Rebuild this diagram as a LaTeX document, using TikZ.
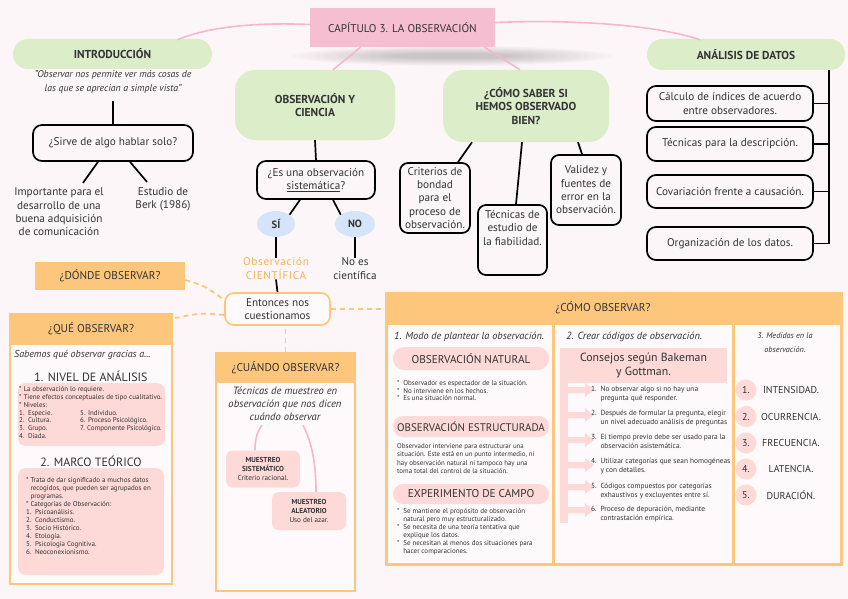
\documentclass[tikz,border=0pt]{standalone}
\usepackage{fontspec}
\setmainfont{PT Sans}
\usetikzlibrary{calc,shapes.geometric}
\definecolor{bgc}{HTML}{FDF6F8}
\definecolor{tpink}{HTML}{F6BED1}
\definecolor{cpink}{HTML}{F5B8CB}
\definecolor{grn}{HTML}{DCEDCA}
\definecolor{blu}{HTML}{D6E4F9}
\definecolor{orng}{HTML}{FCC77D}
\definecolor{otxt}{HTML}{F8B054}
\definecolor{pnk}{HTML}{FDD9D8}
\definecolor{txt}{HTML}{333333}
\definecolor{panel}{HTML}{FEF9FA}
\tikzset{
 txtbase/.style={text=txt, inner sep=0pt, align=center, font=\fontsize{11.2}{13.3}\selectfont},
 gbox/.style={txtbase, fill=grn, rounded corners=14pt, font=\bfseries\fontsize{11.5}{13.3}\selectfont},
 bbox/.style={txtbase, draw=black, line width=1.7pt, rounded corners=9pt},
 conn/.style={black, line width=1.7pt},
 pinkc/.style={cpink, line width=1.6pt},
 odash/.style={orng, line width=1.8pt, dash pattern=on 5pt off 4pt},
 ohead/.style={txtbase, fill=orng, font=\fontsize{11.3}{13}\selectfont},
 obody/.style={draw=orng, line width=2.2pt, fill=panel},
 hw/.style={txtbase, font=\itshape\fontsize{10}{13}\selectfont},
 smalltxt/.style={txtbase, align=left, font=\fontsize{7}{7.8}\selectfont},
 pillbox/.style={txtbase, fill=pnk, rounded corners=10pt, font=\fontsize{11}{13}\selectfont},
 blob/.style={txtbase, ellipse, fill=blu, font=\bfseries\fontsize{10.5}{12}\selectfont},
}
\begin{document}
\begin{tikzpicture}[x=1pt,y=-1pt]
\fill[bgc] (0,0) rectangle (848,599);
\useasboundingbox (0,0) rectangle (848,599);

% ---------- title ----------
\foreach \i in {0,...,9} \fill[black,opacity=0.018] (452,56) ellipse ({160-\i*11} and {10-\i*0.8});
\node[txtbase, fill=tpink, minimum width=185pt, minimum height=39pt] (title) at (402.5,27.5) {CAPÍTULO 3. LA OBSERVACIÓN};

% ---------- introduccion ----------
\node[gbox, minimum width=199pt, minimum height=30pt, rounded corners=15pt] (intro) at (112.5,54) {INTRODUCCIÓN};
\node[hw, font=\itshape\fontsize{9.8}{14}\selectfont] (quote) at (113,82) {"Observar nos permite ver más cosas de\\las que se aprecian a simple vista"};
\node[bbox, minimum width=160pt, minimum height=36pt] (sirve) at (113,143) {¿Sirve de algo hablar solo?};
\node[txtbase] (imp) at (59,212) {Importante para el\\desarrollo de una\\buena adquisición\\de comunicación};
\node[txtbase] (berk) at (163,199) {Estudio de\\Berk (1986)};
\draw[conn] ([yshift=-7pt]quote.south) -- (sirve.north);
\draw[conn] ([xshift=-15pt]sirve.south) -- ([xshift=24pt,yshift=5pt]imp.north);
\draw[conn] ([xshift=17pt]sirve.south) -- ([xshift=-16pt,yshift=5pt]berk.north);

% ---------- observacion y ciencia ----------
\node[gbox, minimum width=160pt, minimum height=70pt, rounded corners=20pt] (obs) at (315,105) {OBSERVACIÓN Y\\CIENCIA};
\node[bbox, minimum width=118pt, minimum height=38pt] (sist) at (316,180) {¿Es una observación\\\underline{sistemática}?};
\node[blob, minimum width=38pt, minimum height=26pt] (si) at (276,224) {SÍ};
\node[blob, minimum width=40pt, minimum height=26pt] (no) at (355,224) {NO};
\node[txtbase, text=otxt, font=\addfontfeature{LetterSpace=6}\fontsize{11.2}{13.3}\selectfont] (cient) at (276,268.5) {Observación\\CIENTÍFICA};
\node[txtbase] (noes) at (355,268.5) {No es\\científica};
\node[txtbase, draw=orng, line width=1.7pt, rounded corners=9pt, minimum width=105pt, minimum height=32pt, fill=panel] (ent) at (277.5,309) {Entonces nos\\cuestionamos};
\draw[conn] (obs.south) -- (sist.north);
\draw[conn] ([xshift=-16pt]sist.south) -- (si.north east);
\draw[conn] ([xshift=17pt]sist.south) -- (no.north west);
\draw[conn] (si.south) -- (cient.north);
\draw[conn] (no.south) -- (noes.north);
\draw[conn] (cient.south) -- (ent.north);

% ---------- como saber ----------
\node[gbox, minimum width=166pt, minimum height=72pt, rounded corners=20pt] (como) at (526,106) {¿CÓMO SABER SI\\HEMOS OBSERVADO\\BIEN?};
\node[bbox, minimum width=70pt, minimum height=70pt, rounded corners=8pt] (crit) at (435,198) {Criterios de\\bondad\\para el\\proceso de\\observación.};
\node[bbox, minimum width=69pt, minimum height=70pt, rounded corners=8pt] (tec) at (512.5,240) {};
\node[txtbase, anchor=north] (tect) at ([yshift=-6pt]tec.north) {Técnicas de\\estudio de\\la fiabilidad.};
\node[bbox, minimum width=70pt, minimum height=70pt, rounded corners=8pt] (val) at (586,190) {Validez y\\fuentes de\\error en la\\observación.};
\draw[conn] ([xshift=-54pt]como.south) -- ([xshift=23pt]crit.north);
\draw[conn] ([xshift=-4pt]como.south) -- ([xshift=3.5pt]tec.north);
\draw[conn] ([xshift=52pt]como.south) -- ([xshift=-4pt]val.north);

% ---------- analisis ----------
\node[gbox, minimum width=198pt, minimum height=31pt, rounded corners=15pt] (anal) at (746,54.5) {ANÁLISIS DE DATOS};
\node[bbox, minimum width=166pt, minimum height=35pt] (a1) at (730,103.5) {Cálculo de índices de acuerdo\\entre observadores.};
\node[bbox, minimum width=166pt, minimum height=34pt] (a2) at (730,144) {Técnicas para la descripción.};
\node[bbox, minimum width=166pt, minimum height=33pt] (a3) at (730,191.5) {Covariación frente a causación.};
\node[bbox, minimum width=166pt, minimum height=33pt] (a4) at (730,243.5) {Organización de los datos.};
\coordinate (abus) at (829,243.5);
\draw[conn] (anal.south -| abus) -- (abus);
\draw[conn] (a1.east) -- (a1.east -| abus);
\draw[conn] (a2.east) -- (a2.east -| abus);
\draw[conn] (a3.east) -- (a3.east -| abus);
\draw[conn] (a4.east) -- (abus);

% ---------- title curves ----------
\draw[pinkc] ([yshift=3pt]title.west) .. controls (250,22) and (205,28) .. ($(intro.north)+(65,1)$);
\draw[pinkc] ([yshift=5pt]title.east) .. controls (580,19) and (660,26) .. ($(anal.north)+(-46,1)$);
\draw[pinkc] ($(title.south)+(-42,0)$) -- ($(obs.north)+(18,0)$);
\draw[pinkc] ($(title.south)+(82,0)$) -- ($(como.north)+(-6,0)$);

% ---------- donde ----------
\node[ohead, minimum width=150pt, minimum height=28pt] (donde) at (110,276) {¿DÓNDE OBSERVAR?};

% ---------- que observar ----------
\node[obody, minimum width=162pt, minimum height=270pt, anchor=north] (queb) at (91,313) {};
\node[ohead, minimum width=162pt, minimum height=32pt, anchor=north] (que) at (91,313) {¿QUÉ OBSERVAR?};
\node[hw, anchor=west] (sab) at (14,355) {Sabemos qué observar gracias a...};
\node[txtbase, font=\fontsize{12}{13}\selectfont] (niv) at (91,376) {1. NIVEL DE ANÁLISIS};
\node[txtbase, fill=pnk, rounded corners=8pt, minimum width=147pt, minimum height=63pt] (nivb) at (91.5,414.5) {};
\node[smalltxt, anchor=north west] (nivt) at (19,386.5) {* La observación lo requiere.\\* Tiene efectos conceptuales de tipo cualitativo.\\* Niveles:\\1.\enspace Especie.\\2.\enspace Cultura.\\3.\enspace Grupo.\\4.\enspace Díada.};
\node[smalltxt, anchor=north west] (nivt2) at (80,409.9) {5. Individuo.\\6. Proceso Psicológico.\\7. Componente Psicológico.};
\node[txtbase, font=\fontsize{12}{13}\selectfont] (marco) at (91,461) {2. MARCO TEÓRICO};
\node[txtbase, fill=pnk, rounded corners=8pt, minimum width=146pt, minimum height=107pt] (marcob) at (91,521.5) {};
\node[smalltxt, anchor=north west, font=\fontsize{7}{8}\selectfont] (marcot) at (26,477) {*\ Trata de dar significado a muchos datos\\\phantom{*\ }recogidos, que pueden ser agrupados en\\\phantom{*\ }programas.\\*\ Categorías de Observación:\\1.\enspace Psicoanálisis.\\2.\enspace Conductismo.\\3.\enspace Socio Histórico.\\4.\enspace Etología.\\5.\enspace Psicología Cognitiva.\\6.\enspace Neoconexionismo.};

% ---------- cuando observar ----------
\node[obody, minimum width=139pt, minimum height=238pt, anchor=north] (cuab) at (285.5,352) {};
\node[ohead, minimum width=139pt, minimum height=31pt, anchor=north] (cuan) at (285.5,352) {¿CUÁNDO OBSERVAR?};
\node[hw, font=\itshape\fontsize{10.6}{13}\selectfont] (tecm) at (285,404) {Técnicas de muestreo en\\observación que nos dicen\\cuándo observar};
\node[txtbase, fill=pnk, rounded corners=7pt, minimum width=74pt, minimum height=37pt, font=\fontsize{7.2}{9}\selectfont] (ms) at (263,469) {\textbf{MUESTREO}\\\textbf{SISTEMÁTICO}\\Criterio racional.};
\node[txtbase, fill=pnk, rounded corners=7pt, minimum width=74pt, minimum height=38pt, font=\fontsize{7.2}{9}\selectfont] (ma) at (309,511) {\textbf{MUESTREO}\\\textbf{ALEATORIO}\\Uso del azar.};
\draw[pinkc] ($(tecm.south)+(-23,4)$) .. controls +(-6,8) and +(0,-8) .. ([xshift=-8pt]ms.north);
\draw[pinkc] ($(tecm.south)+(18,4)$) .. controls +(10,20) and +(0,-25) .. ([xshift=7pt]ma.north);

% ---------- como observar ----------
\node[obody, line width=2.5pt, minimum width=455pt, minimum height=271pt, anchor=north west] (comob) at (385,292) {};
\node[ohead, minimum width=455pt, minimum height=33pt, anchor=north west] (comoh) at (385,292) {};
\node[txtbase, font=\fontsize{11.3}{13}\selectfont] (comot) at (603,307.5) {¿CÓMO OBSERVAR?};
\draw[orng, line width=3pt] (553,325) -- (553,563);
\draw[orng, line width=3pt] (733,325) -- (733,563);

% column 1
\node[hw, anchor=west, font=\itshape\fontsize{10.3}{13}\selectfont] (c1t) at (394,337) {1. Modo de plantear la observación.};
\node[pillbox, minimum width=156pt, minimum height=23pt, rounded corners=11pt, font=\fontsize{11.3}{13}\selectfont] (on) at (471,358.5) {OBSERVACIÓN NATURAL};
\node[smalltxt, anchor=north west] (ont) at (397,380) {*\ \ Observador es espectador de la situación.\\*\ \ No interviene en los hechos.\\*\ \ Es una situación normal.};
\node[pillbox, minimum width=156pt, minimum height=21pt] (oe) at (471,426.5) {OBSERVACIÓN ESTRUCTURADA};
\node[smalltxt, anchor=north west, font=\fontsize{6.9}{8.3}\selectfont] (oet) at (397,443.5) {Observador interviene para estructurar una\\situación. Este está en un punto intermedio, ni\\hay observación natural ni tampoco hay una\\toma total del control de la situación.};
\node[pillbox, minimum width=156pt, minimum height=20pt, font=\fontsize{11.3}{13}\selectfont] (ec) at (471,494) {EXPERIMENTO DE CAMPO};
\node[smalltxt, anchor=north west, font=\fontsize{7}{8}\selectfont] (ect) at (397,508.5) {*\ \ Se mantiene el propósito de observación\\\phantom{*\ \ }natural pero muy estructuralizado.\\*\ \ Se necesita de una teoría tentativa que\\\phantom{*\ \ }explique los datos.\\*\ \ Se necesitan al menos dos situaciones para\\\phantom{*\ \ }hacer comparaciones.};

% column 2
\node[hw, anchor=west, font=\itshape\fontsize{10.4}{13}\selectfont] (c2t) at (566,337) {2. Crear códigos de observación.};
\node[txtbase, fill=pnk, minimum width=167pt, minimum height=35pt, font=\fontsize{11.8}{14}\selectfont] (cons) at (643.5,365.5) {Consejos según Bakeman\\y Gottman.};
\fill[pnk] (560,383) rectangle (568,523);
\foreach \y in {390,415,440,465,487,510}
  \fill[pnk] (568,\y-3) -- (585,\y-3) -- (585,\y-7) -- (594,\y) -- (585,\y+7) -- (585,\y+3) -- (568,\y+3) -- cycle;
\tikzset{itm/.style={smalltxt, anchor=west, font=\fontsize{7.4}{8.6}\selectfont}}
\node[itm] (k1) at (591,394) {\begin{tabular}{@{}l@{\enspace}l@{}}1. & No observar algo si no hay una\\ & pregunta qué responder.\end{tabular}};
\node[itm] (k2) at (591,418.5) {\begin{tabular}{@{}l@{\enspace}l@{}}2. & Después de formular la pregunta, elegir\\ & un nivel adecuado análisis de preguntas\end{tabular}};
\node[itm] (k3) at (591,442.5) {\begin{tabular}{@{}l@{\enspace}l@{}}3. & El tiempo previo debe ser usado para la\\ & observación asistemática.\end{tabular}};
\node[itm] (k4) at (591,466.5) {\begin{tabular}{@{}l@{\enspace}l@{}}4. & Utilizar categorías que sean homogéneas\\ & y con detalles.\end{tabular}};
\node[itm] (k5) at (591,491) {\begin{tabular}{@{}l@{\enspace}l@{}}5. & Códigos compuestos por categorías\\ & exhaustivos y excluyentes entre sí.\end{tabular}};
\node[itm] (k6) at (591,514.5) {\begin{tabular}{@{}l@{\enspace}l@{}}6. & Proceso de depuración, mediante\\ & contrastación empírica.\end{tabular}};

% column 3
\node[hw, font=\itshape\fontsize{8.2}{14}\selectfont] (c3t) at (785,343) {3. Medidas en la\\observación.};
\tikzset{mcirc/.style={txtbase, circle, fill=pnk, minimum size=21pt, font=\fontsize{10}{11}\selectfont},
         mtxt/.style={txtbase, font=\fontsize{10}{11}\selectfont}}
\node[mcirc] (m1) at (746,390) {1.};
\node[mcirc] (m2) at (746,416.5) {2.};
\node[mcirc] (m3) at (746,443) {3.};
\node[mcirc] (m4) at (746,469) {4.};
\node[mcirc] (m5) at (746,495) {5.};
\node[mtxt] (t1) at (791,390) {INTENSIDAD.};
\node[mtxt] (t2) at (791,416.5) {OCURRENCIA.};
\node[mtxt] (t3) at (791,443) {FRECUENCIA.};
\node[mtxt] (t4) at (791,469) {LATENCIA.};
\node[mtxt] (t5) at (791,495) {DURACIÓN.};

% ---------- dashed connectors ----------
\draw[odash] ($(donde.east)+(0,4)$) .. controls (205,286) .. ($(ent.west)+(0,-9)$);
\draw[odash] ($(ent.west)+(0,6)$) .. controls (200,313) .. ($(que.north east)+(3,5)$);
\draw[odash] (ent.east) -- (ent.east -| comoh.west);
\draw[odash] (cuan.north) -- (cuan.north |- ent.south);
\end{tikzpicture}
\end{document}
